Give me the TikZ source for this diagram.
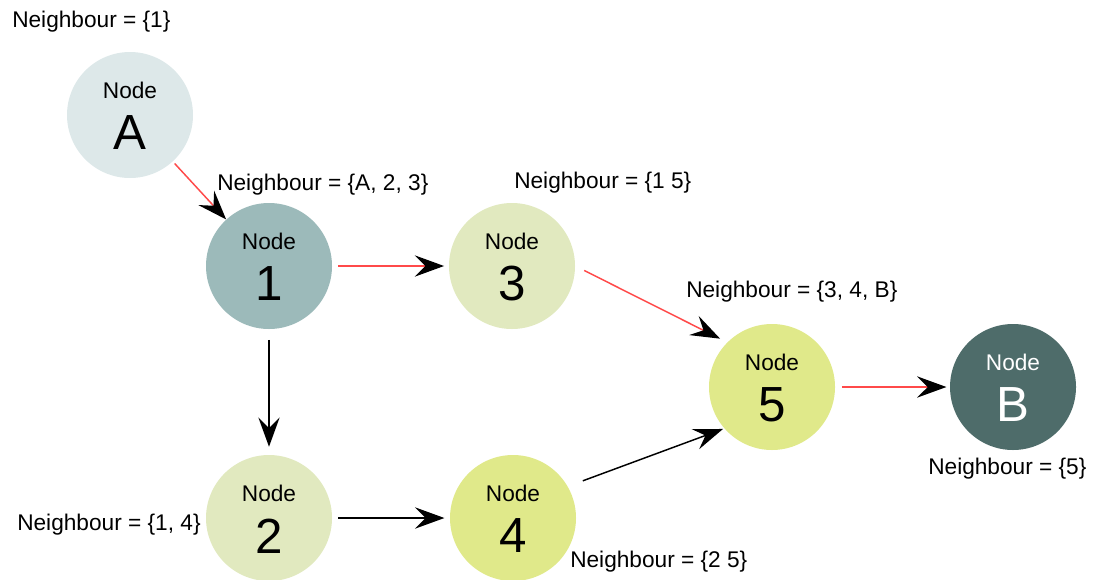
\documentclass[tikz,border=0pt]{standalone}
\usepackage{fontspec}
\setmainfont{Liberation Sans}
\usetikzlibrary{arrows.meta}
\definecolor{cA}{HTML}{DDE8E9}
\definecolor{cOne}{HTML}{9CBABA}
\definecolor{cLight}{HTML}{E1E9BF}
\definecolor{cYel}{HTML}{E0E98A}
\definecolor{cB}{HTML}{4E6C6A}
\definecolor{redline}{HTML}{FF4A4A}
\tikzset{
  gnode/.style={circle, draw=none, minimum size=94.5pt, inner sep=0pt},
  smalltxt/.style={inner sep=0pt, font=\fontsize{17}{20}\selectfont},
  bigtxt/.style={inner sep=0pt, font=\fontsize{37}{40}\selectfont},
  nlabel/.style={inner sep=0pt, anchor=west, font=\fontsize{17}{20}\selectfont},
  conn/.style={line width=1.1pt, -{Stealth[length=22pt,width=16pt,inset=8pt]}},
  redconn/.style={conn, draw=redline, -{Stealth[length=22pt,width=16pt,inset=8pt,color=black]}}
}
\begin{document}
\begin{tikzpicture}[x=0.75pt,y=-0.75pt]
\useasboundingbox (0,0) rectangle (1094,579);
% nodes
\node[gnode, fill=cA]    (A)  at (130,115) {};
\node[gnode, fill=cOne]  (n1) at (269,266) {};
\node[gnode, fill=cLight](n3) at (512,266) {};
\node[gnode, fill=cYel]  (n5) at (772,387) {};
\node[gnode, fill=cB]    (B)  at (1013,387) {};
\node[gnode, fill=cLight](n2) at (269,518) {};
\node[gnode, fill=cYel]  (n4) at (513,518) {};
% node texts
\foreach \n/\t/\c in {A/A/black, n1/1/black, n3/3/black, n5/5/black, n2/2/black, n4/4/black, B/B/white} {
  \node[smalltxt, text=\c] (\n-top) at ([yshift=18.75pt]\n.center) {Node};
  \node[bigtxt, text=\c] (\n-big) at ([yshift=-13.5pt]\n.center) {\t};
}
% neighbour labels
\node[nlabel] (lA) at (12,22) {Neighbour = \{1\}};
\node[nlabel] (l1) at (217,185) {Neighbour = \{A, 2, 3\}};
\node[nlabel] (l3) at (514,183) {Neighbour = \{1 5\}};
\node[nlabel] (l5) at (686,292) {Neighbour = \{3, 4, B\}};
\node[nlabel] (lB) at (928,469) {Neighbour = \{5\}};
\node[nlabel] (l2) at (17,525) {Neighbour = \{1, 4\}};
\node[nlabel] (l4) at (570,562) {Neighbour = \{2 5\}};
% connectors
\draw[redconn, shorten <=2pt] (A) -- (n1);
\draw[redconn, shorten <=4.5pt, shorten >=3.5pt] (n1) -- (n3);
\draw[redconn, shorten <=7.5pt, shorten >=6pt] (n3.east) -- (n5.135);
\draw[redconn, shorten <=5pt, shorten >=2.5pt] (n5) -- (B);
\draw[conn, shorten <=8pt, shorten >=6pt] (n1) -- (n2);
\draw[conn, shorten <=4.5pt, shorten >=4pt] (n2) -- (n4);
\draw[conn, shorten <=12pt, shorten >=1pt] (n4.30) -- (n5.221);
\end{tikzpicture}
\end{document}
